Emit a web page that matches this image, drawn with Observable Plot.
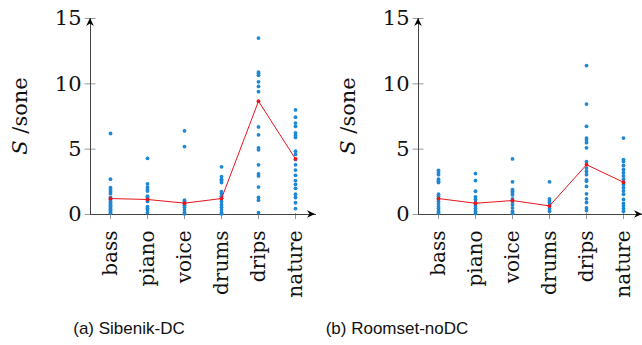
<!DOCTYPE html>
<html>
<head>
<meta charset="utf-8">
<script src="https://cdn.jsdelivr.net/npm/d3@7"></script>
<script src="https://cdn.jsdelivr.net/npm/@observablehq/plot@0.6"></script>
<style>
  html, body { margin: 0; padding: 0; background: #fff; }
  #wrap { position: relative; width: 642px; height: 345px; overflow: hidden; }
  .panel { position: absolute; top: 0; }
  .panel svg { overflow: visible; }
  .panel svg text { font-family: 'DejaVu Serif', serif !important; }
  .cap { position: absolute; font-family: "Liberation Sans", Arial, sans-serif; font-size: 17px; color: #111; transform: translate(-50%, -50%); white-space: nowrap; }
</style>
</head>
<body>
<div id="wrap">
  <div class="panel" id="p1" style="left:0px"></div>
  <div class="panel" id="p2" style="left:328px"></div>
  <div class="cap" style="left:129px; top:329px">(a) Sibenik-DC</div>
  <div class="cap" style="left:397px; top:329px">(b) Roomset-noDC</div>
</div>
<script>
const categories = ["bass", "piano", "voice", "drums", "drips", "nature"];
const yTicks = [0, 5, 10, 15];

// (a) Sibenik-DC
const sibBass   = [6.2, 2.7, 2.05, 1.9, 1.75, 1.6, 1.3, 1.15, 1.0, 0.9, 0.8, 0.7, 0.6, 0.5, 0.4, 0.3, 0.2, 0.1];
const sibPiano  = [4.3, 2.35, 2.1, 1.95, 1.8, 1.4, 1.3, 1.15, 1.0, 0.6, 0.45, 0.35, 0.15];
const sibVoice  = [6.4, 5.2, 1.1, 0.97, 0.85, 0.7, 0.55, 0.35, 0.15, 0.05];
const sibDrums  = [3.65, 2.9, 2.7, 2.6, 2.45, 1.75, 1.6, 1.4, 1.25, 1.0, 0.75, 0.55, 0.35, 0.15, 0.05];
const sibDrips  = [13.5, 10.9, 10.8, 10.65, 10.15, 9.8, 9.4, 6.7, 6.1, 5.1, 4.95, 3.8, 3.1, 2.95, 2.1, 1.3, 1.1, 0.15];
const sibNature = [8.0, 7.45, 7.0, 6.75, 6.25, 6.05, 5.9, 4.85, 4.6, 4.2, 3.8, 3.4, 3.0, 2.6, 2.3, 2.0, 1.55, 1.3, 0.9, 0.45];
const sibLine   = [1.22, 1.15, 0.87, 1.22, 8.67, 4.25];

// (b) Roomset-noDC
const rmBass   = [3.38, 3.2, 3.05, 2.7, 2.55, 2.45, 1.55, 1.4, 1.2, 1.0, 0.8, 0.6, 0.45, 0.25, 0.1];
const rmPiano  = [3.13, 2.6, 1.78, 1.35, 1.15, 0.9, 0.65, 0.45, 0.25, 0.08];
const rmVoice  = [4.25, 2.5, 1.9, 1.78, 1.65, 1.5, 1.2, 1.0, 0.75, 0.5, 0.25, 0.1];
const rmDrums  = [2.5, 1.2, 1.05, 0.9, 0.65, 0.45, 0.25];
const rmDrips  = [11.4, 8.45, 6.75, 5.85, 5.7, 5.5, 5.1, 4.05, 3.55, 3.3, 3.05, 2.65, 2.55, 2.15, 1.58, 1.2, 0.92, 0.5, 0.3];
const rmNature = [5.85, 4.2, 4.05, 3.75, 3.45, 3.2, 2.95, 2.7, 2.3, 2.05, 1.8, 1.55, 1.15, 0.85, 0.65, 0.45, 0.25];
const rmLine   = [1.22, 0.86, 1.07, 0.66, 3.81, 2.47];

function flatten(groups) {
  const out = [];
  groups.forEach((vals, i) => vals.forEach(v => out.push({cat: categories[i], v})));
  return out;
}
function lineRows(vals) { return vals.map((v, i) => ({cat: categories[i], v})); }

const BLUE = "#1f88d4", RED = "#e8141c", AXIS = "#444", TICK = "#9a9a9a";
const SERIF = "'DejaVu Serif', serif";

function panel(groups, lineVals, width, marginRight) {
  const pts = flatten(groups);
  const ln = lineRows(lineVals);
  const plot = Plot.plot({
    width, height: 310,
    marginLeft: 90, marginRight, marginTop: 18, marginBottom: 96,
    style: {fontFamily: SERIF, fontSize: "20px", color: "#111", background: "transparent"},
    x: {type: "point", domain: categories, padding: 0.5, label: null},
    y: {domain: [0, 15], label: null},
    marks: [
      Plot.axisY({ticks: yTicks, tickSize: 11, dx: 5.5, tickFormat: () => "", stroke: TICK, label: null}),
      Plot.axisY({ticks: yTicks, tickSize: 0, tickPadding: 9, fontSize: 21, label: null}),
      Plot.axisX({tickSize: 6, dy: -1, tickFormat: () => "", stroke: TICK, label: null}),
      Plot.axisX({tickSize: 0, tickPadding: 16, tickRotate: -90, fontSize: 20, label: null}),
      Plot.frame({anchor: "left", stroke: AXIS}),
      Plot.frame({anchor: "bottom", stroke: AXIS}),
      Plot.dot(pts, {x: "cat", y: "v", r: 1.9, fill: BLUE, stroke: null}),
      Plot.line(ln, {x: "cat", y: "v", stroke: RED, strokeWidth: 1}),
      Plot.dot(ln, {x: "cat", y: "v", r: 1.9, fill: RED, stroke: null})
    ]
  });
  const svg = d3.select(plot);
  const [x0, x1] = plot.scale("x").range;
  const [yb, yt] = plot.scale("y").range;
  // arrowheads at axis ends
  svg.append("path")
    .attr("d", `M${x1},${yb} L${x1 - 8},${yb - 3.8} L${x1 - 5.5},${yb} L${x1 - 8},${yb + 3.8} Z`)
    .attr("fill", "#000");
  svg.append("path")
    .attr("d", `M${x0},${yt} L${x0 - 3.8},${yt + 8} L${x0},${yt + 5.5} L${x0 + 3.8},${yt + 8} Z`)
    .attr("fill", "#000");
  // y-axis label
  const t = svg.append("text")
    .attr("transform", `translate(21,${(yb + yt) / 2}) rotate(-90)`)
    .attr("text-anchor", "middle")
    .attr("dominant-baseline", "middle")
    .style("font-family", SERIF)
    .attr("font-size", 21)
    .attr("fill", "#111");
  t.append("tspan").attr("font-style", "italic").text("S");
  t.append("tspan").text(" /sone");
  return plot;
}

document.getElementById("p1").appendChild(
  panel([sibBass, sibPiano, sibVoice, sibDrums, sibDrips, sibNature], sibLine, 321, 6));
document.getElementById("p2").appendChild(
  panel([rmBass, rmPiano, rmVoice, rmDrums, rmDrips, rmNature], rmLine, 314, 0));
</script>
</body>
</html>
